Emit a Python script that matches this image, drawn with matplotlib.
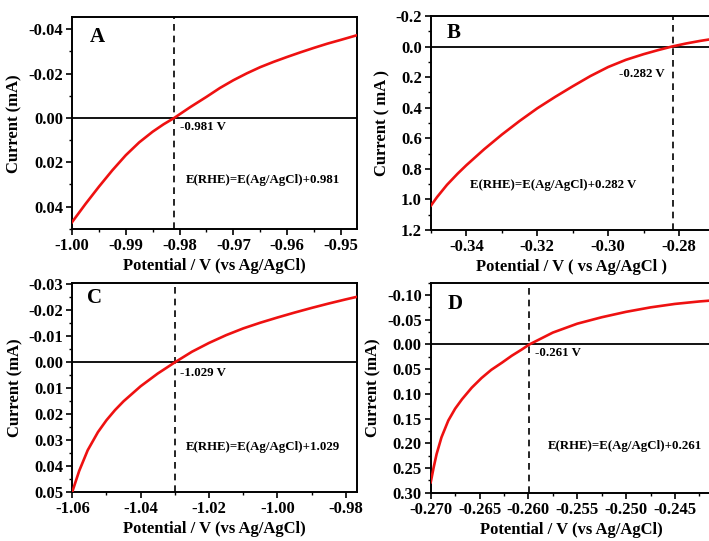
import numpy as np
import matplotlib
matplotlib.use("Agg")
import matplotlib.pyplot as plt
from matplotlib.ticker import FixedLocator, AutoMinorLocator, FuncFormatter

plt.rcParams['font.family'] = ['Liberation Serif', 'DejaVu Serif']
plt.rcParams['font.weight'] = 'bold'

# panel A
a_x = [-1.000, -0.9975, -0.995, -0.9925, -0.990, -0.9875, -0.985, -0.983, -0.981, -0.978,
       -0.975, -0.9725, -0.970, -0.9675, -0.965, -0.9625, -0.960, -0.9575, -0.955, -0.9525,
       -0.950, -0.947]
a_i = [0.047, 0.0388, 0.0310, 0.0236, 0.0168, 0.0110, 0.0062, 0.0029, 0.0, -0.0049,
       -0.0095, -0.0135, -0.0170, -0.0201, -0.0229, -0.0253, -0.0275, -0.0296, -0.0316, -0.0335,
       -0.0352, -0.0373]
a_xticks = [-1.00, -0.99, -0.98, -0.97, -0.96, -0.95]
a_yticks = [-0.04, -0.02, 0.00, 0.02, 0.04]

# panel B
b_x = [-0.350, -0.3483, -0.3455, -0.3425, -0.340, -0.335, -0.330, -0.325, -0.320, -0.315, -0.310,
       -0.305, -0.300, -0.295, -0.290, -0.286, -0.282, -0.278, -0.274, -0.2707]
b_i = [1.04, 0.985, 0.905, 0.832, 0.776, 0.672, 0.576, 0.487, 0.404, 0.330, 0.260,
       0.193, 0.134, 0.087, 0.050, 0.024, 0.0, -0.020, -0.037, -0.049]
b_xticks = [-0.34, -0.32, -0.30, -0.28]
b_yticks = [-0.2, 0.0, 0.2, 0.4, 0.6, 0.8, 1.0, 1.2]

# panel C
c_x = [-1.060, -1.058, -1.0555, -1.0525, -1.050, -1.0475, -1.045, -1.040, -1.035, -1.0299, -1.025,
       -1.020, -1.015, -1.010, -1.005, -1.000, -0.995, -0.990, -0.985, -0.980, -0.9767]
c_i = [0.050, 0.042, 0.034, 0.0270, 0.0224, 0.0185, 0.0151, 0.0093, 0.0044, 0.0, -0.0040,
       -0.0074, -0.0104, -0.0130, -0.0152, -0.0172, -0.0191, -0.0209, -0.0226, -0.0242, -0.0252]
c_xticks = [-1.06, -1.04, -1.02, -1.00, -0.98]
c_yticks = [-0.03, -0.02, -0.01, 0.00, 0.01, 0.02, 0.03, 0.04, 0.05]

# panel D
d_x = [-0.2700, -0.2697, -0.2694, -0.2689, -0.2682, -0.2675, -0.2668, -0.2658, -0.2648, -0.2638,
       -0.2627, -0.2617, -0.2607, -0.2599, -0.2575, -0.2550, -0.2525, -0.2500, -0.2475, -0.2450,
       -0.2425, -0.2412]
d_i = [0.279, 0.249, 0.222, 0.188, 0.154, 0.130, 0.111, 0.0875, 0.0680, 0.0514,
       0.0368, 0.0228, 0.0105, 0.0, -0.024, -0.042, -0.055, -0.066, -0.075, -0.082,
       -0.087, -0.089]
d_xticks = [-0.270, -0.265, -0.260, -0.255, -0.250, -0.245]
d_yticks = [-0.10, -0.05, 0.00, 0.05, 0.10, 0.15, 0.20, 0.25, 0.30]

panels = [
    dict(rect=[0.1016, 0.5762, 0.4019, 0.3919], x=a_x, i=a_i, xlim=(-1.0, -0.947), ylim=(0.0502, -0.0454),
         xt=a_xticks, yt=a_yticks, xf='%.2f', yf='%.2f', onset=-0.981, letter='A',
         lab='-0.981 V', eq='E(RHE)=E(Ag/AgCl)+0.981',
         pos=[(0.063, 0.906), (0.379, 0.4825), (0.40, 0.2325)],
         ylabel='Current (mA)', xlabel='Potential / V (vs Ag/AgCl)', right=True),
    dict(rect=[0.6079, 0.5749, 0.3963, 0.3956], x=b_x, i=b_i, xlim=(-0.350, -0.2707), ylim=(1.2, -0.2),
         xt=b_xticks, yt=b_yticks, xf='%.2f', yf='%.1f', onset=-0.2816, letter='B',
         lab='-0.282 V', eq='E(RHE)=E(Ag/AgCl)+0.282 V',
         pos=[(0.057, 0.92), (0.669, 0.729), (0.139, 0.21)],
         ylabel='Current ( mA )', xlabel='Potential / V ( vs Ag/AgCl )', right=False),
    dict(rect=[0.1020, 0.0911, 0.4015, 0.3852], x=c_x, i=c_i, xlim=(-1.06, -0.9767), ylim=(0.05, -0.0304),
         xt=c_xticks, yt=c_yticks, xf='%.2f', yf='%.2f', onset=-1.0299, letter='C',
         lab='-1.029 V', eq='E(RHE)=E(Ag/AgCl)+1.029',
         pos=[(0.052, 0.928), (0.378, 0.568), (0.40, 0.213)],
         ylabel='Current (mA)', xlabel='Potential / V (vs Ag/AgCl)', right=True),
    dict(rect=[0.6075, 0.0893, 0.3968, 0.3882], x=d_x, i=d_i, xlim=(-0.270, -0.2412), ylim=(0.30, -0.125),
         xt=d_xticks, yt=d_yticks, xf='%.3f', yf='%.2f', onset=-0.2599, letter='D',
         lab='-0.261 V', eq='E(RHE)=E(Ag/AgCl)+0.261',
         pos=[(0.06, 0.90), (0.371, 0.664), (0.415, 0.222)],
         ylabel='Current (mA)', xlabel='Potential / V (vs Ag/AgCl)', right=False),
]


def make_fmt(f):
    def fmt(v, pos):
        s = f % v
        if float(s) == 0:
            s = f % 0.0
        return s
    return FuncFormatter(fmt)


fig = plt.figure(figsize=(7.09, 5.41), dpi=100)

for p in panels:
    ax = fig.add_axes(p['rect'])
    ax.plot(p['x'], p['i'], color='#ee1111', lw=1.9, zorder=3)
    ax.axhline(0, color='black', lw=1.3, zorder=2)
    ax.axvline(p['onset'], color='black', lw=1.2, ls=(0, (4, 3)), zorder=2)
    ax.set_xlim(*p['xlim'])
    ax.set_ylim(*p['ylim'])
    ax.xaxis.set_major_locator(FixedLocator(p['xt']))
    ax.yaxis.set_major_locator(FixedLocator(p['yt']))
    ax.xaxis.set_minor_locator(AutoMinorLocator(2))
    ax.yaxis.set_minor_locator(AutoMinorLocator(2))
    ax.xaxis.set_major_formatter(make_fmt(p['xf']))
    ax.yaxis.set_major_formatter(make_fmt(p['yf']))
    ax.tick_params(which='major', direction='out', length=4, width=1.2, labelsize=12, pad=2.5)
    ax.tick_params(which='minor', direction='out', length=2.5, width=1.0)
    for lbl in ax.get_xticklabels() + ax.get_yticklabels():
        lbl.set_fontweight('bold')
    for s in ax.spines.values():
        s.set_linewidth(1.4)
    ax.spines['right'].set_visible(p['right'])
    ax.set_ylabel(p['ylabel'], fontsize=12, fontweight='bold', labelpad=4)
    ax.set_xlabel(p['xlabel'], fontsize=12, fontweight='bold', labelpad=3)
    (lx, ly), (ox, oy), (ex, ey) = p['pos']
    ax.text(lx, ly, p['letter'], transform=ax.transAxes, fontsize=15, fontweight='bold', va='center', ha='left')
    ax.text(ox, oy, p['lab'], transform=ax.transAxes, fontsize=9.3, fontweight='bold', va='center', ha='left')
    ax.text(ex, ey, p['eq'], transform=ax.transAxes, fontsize=9.3, fontweight='bold', va='center', ha='left')

fig.savefig('out.png', dpi=100)
